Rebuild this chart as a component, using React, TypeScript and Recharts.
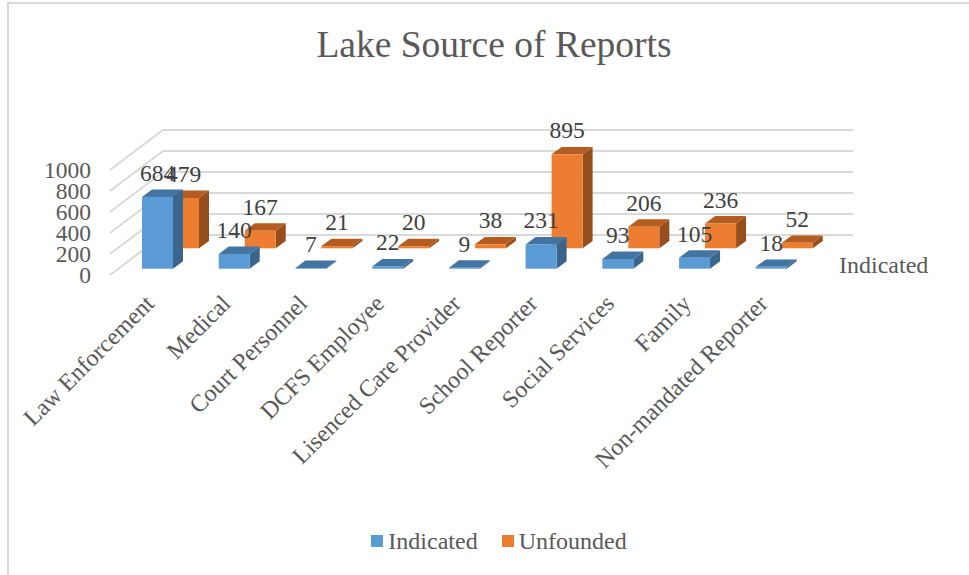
import { Bar, BarChart, LabelList, Legend, XAxis, YAxis } from 'recharts';

const categories = [
  'Law Enforcement',
  'Medical',
  'Court Personnel',
  'DCFS Employee',
  'Lisenced Care Provider',
  'School Reporter',
  'Social Services',
  'Family',
  'Non-mandated Reporter',
];
const indicated = [684, 140, 7, 22, 9, 231, 93, 105, 18];
const unfounded = [479, 167, 21, 20, 38, 895, 206, 236, 52];
const valueTicks = [0, 200, 400, 600, 800, 1000];

const chartData = categories.map((name, i) => ({
  name,
  indicated: indicated[i],
  unfounded: unfounded[i],
}));

const FONT = '"Liberation Serif", "Times New Roman", serif';
const TEXT = '#595959';
const LABEL = '#404040';
const GRID = '#d9d9d9';

// fake 3D: front face plus a top and a side face pushed back
const DEPTH_X = 10;
const DEPTH_Y = 7.4;

function Box3D(props: any) {
  const { x, y, width, height, front, top, side } = props;
  const r = x + width;
  const b = y + height;
  return (
    <g>
      <polygon
        points={`${r},${y} ${r + DEPTH_X},${y - DEPTH_Y} ${r + DEPTH_X},${b - DEPTH_Y} ${r},${b}`}
        fill={side}
      />
      <polygon
        points={`${x},${y} ${x + DEPTH_X},${y - DEPTH_Y} ${r + DEPTH_X},${y - DEPTH_Y} ${r},${y}`}
        fill={top}
      />
      <rect x={x} y={y} width={width} height={height} fill={front} />
    </g>
  );
}

// the value ticks also carry the slanted floor line and the back wall line
function ValueTick({ y, payload }: any) {
  const left = y + 6.3;
  const back = y - 33.7;
  return (
    <g>
      <polyline
        points={`110,${left} 163,${back} 853,${back}`}
        fill="none"
        stroke={GRID}
        strokeWidth={2}
      />
      <text x={91} y={left + 7.5} textAnchor="end" fontSize={23.5} fill={TEXT} fontFamily={FONT}>
        {payload.value}
      </text>
    </g>
  );
}

function CategoryTick({ x, payload }: any) {
  const px = x - 2;
  const py = 305;
  return (
    <text
      x={px}
      y={py}
      textAnchor="end"
      fontSize={24}
      fill={TEXT}
      fontFamily={FONT}
      transform={`rotate(-45 ${px} ${py})`}
    >
      {payload.value}
    </text>
  );
}

function LegendBox() {
  const item = (label: string, color: string) => (
    <span style={{ display: 'inline-flex', alignItems: 'center' }}>
      <span style={{ width: 12, height: 12, background: color, marginRight: 5 }} />
      {label}
    </span>
  );
  return (
    <div
      style={{
        display: 'flex',
        gap: 24,
        justifyContent: 'center',
        fontFamily: FONT,
        fontSize: 24,
        color: TEXT,
        lineHeight: '30px',
      }}
    >
      {item('Indicated', '#5b9bd5')}
      {item('Unfounded', '#ed7d31')}
    </div>
  );
}

const layer = { position: 'absolute', left: 0, top: 0 } as const;

export default function App() {
  return (
    <div style={{ position: 'absolute', left: 0, top: 0, width: 969, height: 575, background: '#fff' }}>
      <div
        style={{
          position: 'absolute',
          left: 7,
          top: 2,
          width: 962,
          height: 573,
          boxSizing: 'border-box',
          borderLeft: `2px solid ${GRID}`,
          borderTop: `2px solid ${GRID}`,
        }}
      />
      {/* back layer: the axis drew over the bars otherwise */}
      <BarChart
        width={969}
        height={575}
        data={chartData}
        margin={{ top: 121.7, right: 133.5, bottom: 306.3, left: 59 }}
        style={layer}
      >
        <XAxis dataKey="name" hide />
        <YAxis
          width={60}
          domain={[0, 1400]}
          ticks={valueTicks}
          interval={0}
          axisLine={false}
          tickLine={false}
          tick={<ValueTick />}
        />
        <Bar dataKey="indicated" fill="none" isAnimationActive={false} />
      </BarChart>
      <BarChart
        width={969}
        height={575}
        data={chartData}
        margin={{ top: 121.7, right: 133.5, bottom: 246.3, left: 119 }}
        style={layer}
      >
        <text x={494} y={57} textAnchor="middle" fontSize={37.5} fill={TEXT} fontFamily={FONT}>
          Lake Source of Reports
        </text>
        <text x={839} y={273} fontSize={24} fill={TEXT} fontFamily={FONT}>
          Indicated
        </text>
        <XAxis
          xAxisId="front"
          dataKey="name"
          padding={{ left: 0, right: 26 }}
          height={30}
          axisLine={false}
          tickLine={false}
          interval={0}
          tick={<CategoryTick />}
        />
        <XAxis xAxisId="back" dataKey="name" padding={{ left: 26, right: 0 }} hide />
        <YAxis yAxisId="front" domain={[0, 1400]} hide />
        <YAxis yAxisId="back" domain={[-194.3, 1205.7]} hide />
        <Legend
          height={30}
          content={<LegendBox />}
          wrapperStyle={{ top: 526, bottom: 'auto', left: 0, width: 998 }}
        />
        <Bar
          xAxisId="back"
          yAxisId="back"
          dataKey="unfounded"
          name="Unfounded"
          barSize={31}
          isAnimationActive={false}
          shape={<Box3D front="#ed7d31" top="#b55d20" side="#964f1c" />}
        >
          <LabelList dataKey="unfounded" position="top" offset={16} fontSize={23.5} fill={LABEL} fontFamily={FONT} />
        </Bar>
        <Bar
          xAxisId="front"
          yAxisId="front"
          dataKey="indicated"
          name="Indicated"
          barSize={31}
          isAnimationActive={false}
          shape={<Box3D front="#5b9bd5" top="#4375a3" side="#3a668e" />}
        >
          <LabelList dataKey="indicated" position="top" offset={16} fontSize={23.5} fill={LABEL} fontFamily={FONT} />
        </Bar>
      </BarChart>
    </div>
  );
}
